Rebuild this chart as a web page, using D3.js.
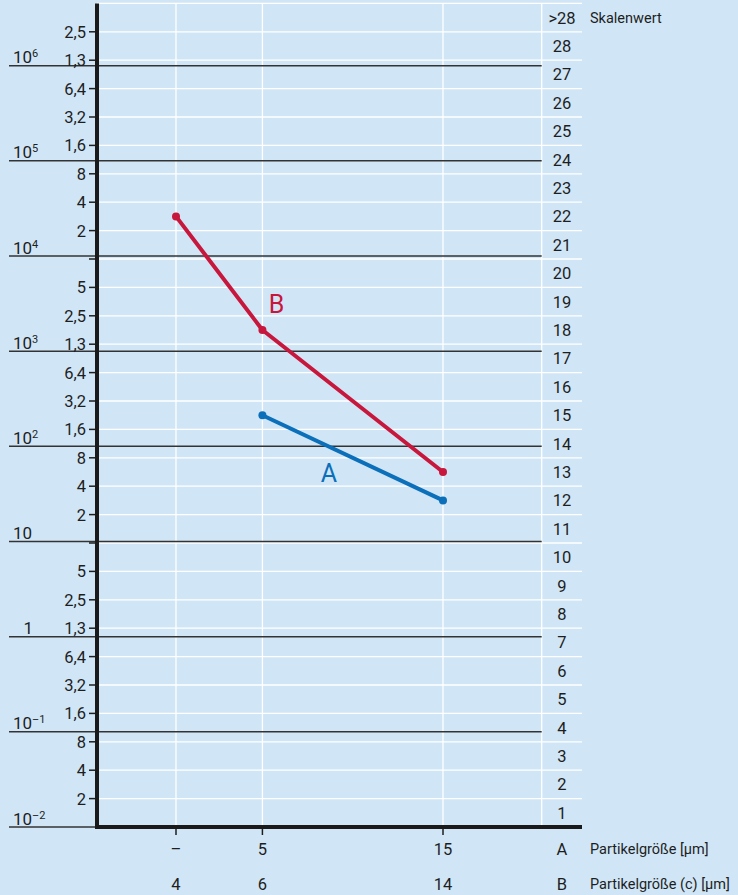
<!DOCTYPE html>
<html lang="de">
<head>
<meta charset="utf-8">
<title>Reinheitsklassen</title>
<style>
  body { margin: 0; background: #d0e6f6; }
  svg { display: block; font-family: Roboto, "Noto Sans", sans-serif; }
</style>
</head>
<body>
<script src="https://cdn.jsdelivr.net/npm/d3@7"></script>
<script>
// scale values (rows) 1..28 and ">28"
const scaleLabels = ["1","2","3","4","5","6","7","8","9","10","11","12","13","14",
  "15","16","17","18","19","20","21","22","23","24","25","26","27","28",">28"];
// particle count labels at the row boundaries 1..28
const boundaryLabels = ["2","4","8","1,6","3,2","6,4","1,3","2,5","5","",
  "2","4","8","1,6","3,2","6,4","1,3","2,5","5","",
  "2","4","8","1,6","3,2","6,4","1,3","2,5"];
// decades 10^-2 .. 10^6
const decades = [-2, -1, 0, 1, 2, 3, 4, 5, 6];
// particle sizes
const sizesC = [4, 6, 14];
const labelsA = ["–", "5", "15"];
const labelsB = ["4", "6", "14"];
// scale values of the two samples
const seriesA = [null, 15, 12];
const seriesB = [22, 18, 13];

const W = 738, H = 895;
const plotLeft = 97, plotRight = 541.7, gridEnd = 582, plotTop = 3.4, plotBottom = 827;
const red = "#c8173c", blue = "#0b6fba", ink = "#1e1e1e";

const svg = d3.select("body").append("svg")
  .attr("width", W).attr("height", H);

svg.append("rect").attr("width", W).attr("height", H).attr("fill", "#d0e6f6");

const yRow = d3.scaleLinear().domain([0, 29]).range([plotBottom, plotTop]);
const yDec = d3.scaleLog().domain([1e-2, 1e6]).range([plotBottom, 65.7]);
const x = d3.scaleLog().domain([4, 14]).range([176, 443]);

// white grid
const grid = svg.append("g").attr("stroke", "#fff").attr("stroke-width", 1.3);
grid.selectAll("line.h").data(d3.range(1, 30)).join("line")
  .attr("x1", plotLeft).attr("x2", gridEnd)
  .attr("y1", d => yRow(d)).attr("y2", d => yRow(d));
grid.selectAll("line.v").data(sizesC).join("line")
  .attr("x1", d => x(d)).attr("x2", d => x(d))
  .attr("y1", plotTop).attr("y2", plotBottom);
grid.append("line").attr("x1", plotRight).attr("x2", plotRight).attr("y1", plotTop).attr("y2", plotBottom);

// decade lines
svg.append("g").attr("stroke", "#333").attr("stroke-width", 1.5)
  .selectAll("line").data(decades).join("line")
  .attr("x1", 9).attr("x2", plotRight)
  .attr("y1", d => yDec(Math.pow(10, d))).attr("y2", d => yDec(Math.pow(10, d)));

// decade labels
const dl = svg.append("g").attr("fill", ink).attr("font-size", 17)
  .selectAll("text").data(decades).join("text")
  .attr("x", d => d === 0 ? 33 : 13)
  .attr("text-anchor", d => d === 0 ? "end" : "start")
  .attr("y", d => yDec(Math.pow(10, d)) - 2.5);
dl.append("tspan").text(d => d === 0 ? "1" : "10");
dl.filter(d => d !== 0 && d !== 1).append("tspan")
  .attr("font-size", 11).attr("dy", -6)
  .text(d => String(d).replace("-", "–"));

// left ticks and labels
const lt = svg.append("g");
lt.selectAll("line").data(d3.range(1, 29)).join("line")
  .attr("x1", 89).attr("x2", plotLeft)
  .attr("y1", d => yRow(d)).attr("y2", d => yRow(d))
  .attr("stroke", ink).attr("stroke-width", 1.5);
lt.selectAll("text").data(boundaryLabels).join("text")
  .attr("x", 86).attr("y", (d, i) => yRow(i + 1))
  .attr("dy", "0.36em").attr("text-anchor", "end")
  .attr("font-size", 16.5).attr("fill", ink)
  .text(d => d);

// right scale values
svg.append("g").selectAll("text").data(scaleLabels).join("text")
  .attr("x", 562).attr("y", (d, i) => yRow(i + 0.5))
  .attr("dy", "0.36em").attr("text-anchor", "middle")
  .attr("font-size", 16.5).attr("fill", ink)
  .text(d => d);
svg.append("text").attr("x", 590).attr("y", yRow(28.5)).attr("dy", "0.36em")
  .attr("font-size", 14.5).attr("fill", ink).text("Skalenwert");

// axes
svg.append("line").attr("x1", plotLeft).attr("x2", plotLeft).attr("y1", plotTop).attr("y2", plotBottom + 2)
  .attr("stroke", "#1a1a1a").attr("stroke-width", 4);
svg.append("line").attr("x1", plotLeft - 2).attr("x2", gridEnd).attr("y1", plotBottom).attr("y2", plotBottom)
  .attr("stroke", "#1a1a1a").attr("stroke-width", 4);

// bottom ticks and labels
const bt = svg.append("g");
bt.selectAll("line").data(sizesC).join("line")
  .attr("x1", d => x(d)).attr("x2", d => x(d))
  .attr("y1", plotBottom + 2).attr("y2", plotBottom + 8)
  .attr("stroke", ink).attr("stroke-width", 1.5);
bt.selectAll("text.a").data(labelsA).join("text").attr("class", "a")
  .attr("x", (d, i) => x(sizesC[i])).attr("y", 849).attr("dy", "0.36em")
  .attr("text-anchor", "middle").attr("font-size", 16.5).attr("fill", ink)
  .text(d => d);
bt.selectAll("text.b").data(labelsB).join("text").attr("class", "b")
  .attr("x", (d, i) => x(sizesC[i])).attr("y", 884).attr("dy", "0.36em")
  .attr("text-anchor", "middle").attr("font-size", 16.5).attr("fill", ink)
  .text(d => d);
[["A", "Partikelgröße [µm]", 849], ["B", "Partikelgröße (c) [µm]", 884]].forEach(([k, t, y]) => {
  svg.append("text").attr("x", 562).attr("y", y).attr("dy", "0.36em")
    .attr("text-anchor", "middle").attr("font-size", 16.5).attr("fill", ink).text(k);
  svg.append("text").attr("x", 590).attr("y", y).attr("dy", "0.36em")
    .attr("font-size", 14.5).attr("fill", ink).text(t);
});

// series
const line = d3.line()
  .defined(d => d.v != null)
  .x(d => x(d.s)).y(d => yRow(d.v - 0.5));
[[seriesA, blue], [seriesB, red]].forEach(([vals, col]) => {
  const pts = vals.map((v, i) => ({ s: sizesC[i], v }));
  svg.append("path").datum(pts).attr("d", line)
    .attr("fill", "none").attr("stroke", col).attr("stroke-width", 4)
    .attr("stroke-linejoin", "round");
  svg.append("g").selectAll("circle").data(pts.filter(d => d.v != null)).join("circle")
    .attr("cx", d => x(d.s)).attr("cy", d => yRow(d.v - 0.5))
    .attr("r", 4).attr("fill", col);
});

// series labels
svg.append("text").attr("x", x(6) + 14).attr("y", yRow(18.4)).attr("dy", "0.36em")
  .attr("text-anchor", "middle").attr("font-size", 25)
  .attr("fill", red).text("B");
svg.append("text").attr("x", x(8.2)).attr("y", yRow(12.45)).attr("dy", "0.36em")
  .attr("text-anchor", "middle").attr("font-size", 25)
  .attr("fill", blue).text("A");
</script>
</body>
</html>
